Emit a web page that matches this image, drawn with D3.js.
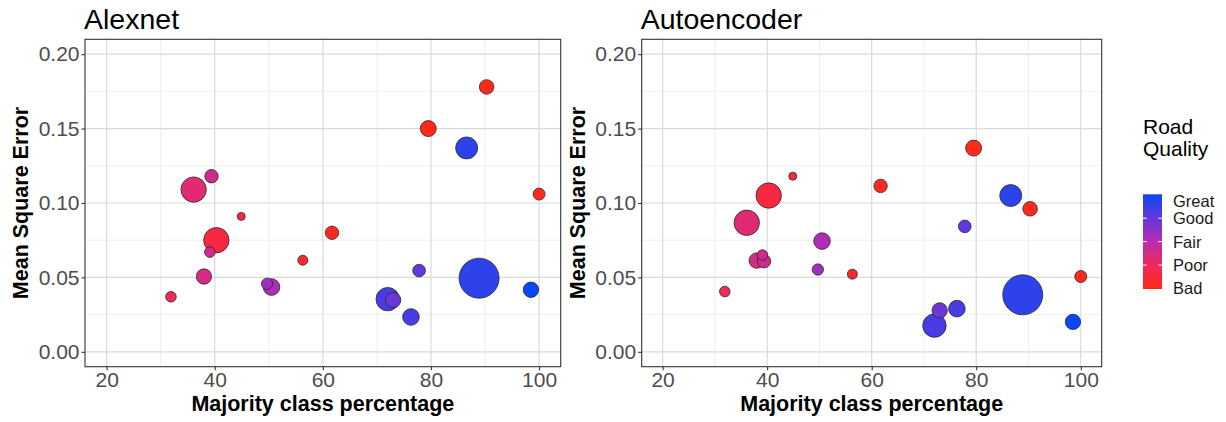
<!DOCTYPE html>
<html>
<head>
<meta charset="utf-8">
<script src="https://cdn.jsdelivr.net/npm/d3@7/dist/d3.min.js"></script>
<style>
  body { margin: 0; background: #fff; }
  svg { display: block; font-family: "Liberation Sans", Arial, sans-serif; }
</style>
</head>
<body>
<svg id="chart" width="1226" height="422"></svg>
<script>
// ---- data ----
const majorityPct = [90.3, 79.5, 86.6, 100, 39.4, 36.1, 44.9, 40.3, 39.1, 61.7, 56.3, 38.0, 31.9, 49.7, 50.5, 77.8, 88.9, 98.5, 72.0, 73.0, 76.3];
const alexnetMSE = [0.178, 0.150, 0.137, 0.106, 0.118, 0.109, 0.091, 0.075, 0.067, 0.080, 0.0615, 0.0506, 0.037, 0.0457, 0.0435, 0.0546, 0.0495, 0.0417, 0.0354, 0.0348, 0.0234];
const autoencoderMSE = [0.0961, 0.1369, 0.105, 0.0506, 0.0609, 0.0867, 0.118, 0.105, 0.065, 0.1115, 0.0522, 0.0613, 0.0405, 0.0553, 0.0744, 0.0843, 0.0383, 0.0201, 0.0176, 0.0278, 0.029];
const roadQuality = [1.0, 1.0, 4.6, 1.0, 2.6, 2.3, 1.7, 1.6, 2.6, 1.1, 1.2, 2.5, 2.0, 3.3, 3.1, 4.0, 4.6, 5.0, 4.3, 3.9, 4.3];
const sampleSize = [53, 64, 121, 36, 45, 161, 16, 161, 28, 45, 25, 59, 28, 32, 69, 40, 400, 59, 137, 59, 69];
const panelTitles = ["Alexnet", "Autoencoder"];
const xTicks = [20, 40, 60, 80, 100];
const xMinor = [30, 50, 70, 90];
const yTicks = [0, 0.05, 0.10, 0.15, 0.20];
const yMinor = [0.025, 0.075, 0.125, 0.175];
const qualityLabels = ["Great", "Good", "Fair", "Poor", "Bad"];
const qualityBreaks = [4.72, 4, 3, 2, 1];
const qualityTicks = [4, 3, 2];

// ---- layout ----
const svg = d3.select("#chart");
const plotTop = 39.3, plotBottom = 366.7;
const panels = [
  { x0: 85, x1: 560.7, title: panelTitles[0], mse: alexnetMSE },
  { x0: 641.7, x1: 1101.7, title: panelTitles[1], mse: autoencoderMSE }
];

const color = d3.scaleLinear()
  .domain([1, 2, 3, 4, 5])
  .range(["#ff2a1a", "#f2285a", "#b82cb0", "#6238dc", "#0a48f5"])
  .interpolate(d3.interpolateRgb);
const rScale = d3.scaleSqrt().domain([0, 400]).range([0, 20]);

panels.forEach(p => {
  const x = d3.scaleLinear().domain([16, 104]).range([p.x0, p.x1]);
  const y = d3.scaleLinear().domain([-0.01, 0.21]).range([plotBottom, plotTop]);
  const g = svg.append("g");

  // minor grid
  g.selectAll(".vmin").data(xMinor).enter().append("line")
    .attr("x1", d => x(d)).attr("x2", d => x(d)).attr("y1", plotTop).attr("y2", plotBottom)
    .attr("stroke", "#ebebeb").attr("stroke-width", 0.8);
  g.selectAll(".hmin").data(yMinor).enter().append("line")
    .attr("y1", d => y(d)).attr("y2", d => y(d)).attr("x1", p.x0).attr("x2", p.x1)
    .attr("stroke", "#ebebeb").attr("stroke-width", 0.8);
  // major grid
  g.selectAll(".vmaj").data(xTicks).enter().append("line")
    .attr("x1", d => x(d)).attr("x2", d => x(d)).attr("y1", plotTop).attr("y2", plotBottom)
    .attr("stroke", "#d9d9d9").attr("stroke-width", 1.2);
  g.selectAll(".hmaj").data(yTicks).enter().append("line")
    .attr("y1", d => y(d)).attr("y2", d => y(d)).attr("x1", p.x0).attr("x2", p.x1)
    .attr("stroke", "#d9d9d9").attr("stroke-width", 1.2);

  // points (large first so small ones sit on top)
  const idx = d3.range(majorityPct.length).sort((a, b) => sampleSize[b] - sampleSize[a]);
  g.selectAll("circle").data(idx).enter().append("circle")
    .attr("cx", i => x(majorityPct[i]))
    .attr("cy", i => y(p.mse[i]))
    .attr("r", i => rScale(sampleSize[i]))
    .attr("fill", i => color(roadQuality[i]))
    .attr("stroke", "#2a2a2a").attr("stroke-width", 0.8);

  // border
  g.append("rect").attr("x", p.x0).attr("y", plotTop)
    .attr("width", p.x1 - p.x0).attr("height", plotBottom - plotTop)
    .attr("fill", "none").attr("stroke", "#333").attr("stroke-width", 1.1);

  // axes
  const xAxis = d3.axisBottom(x).tickValues(xTicks).tickSize(3.5).tickPadding(2).tickFormat(d3.format("d"));
  const xa = g.append("g").attr("transform", `translate(0,${plotBottom})`).call(xAxis);
  const yAxis = d3.axisLeft(y).tickValues(yTicks).tickSize(3.5).tickPadding(2).tickFormat(d3.format(".2f"));
  const ya = g.append("g").attr("transform", `translate(${p.x0},0)`).call(yAxis);
  [xa, ya].forEach(a => {
    a.select(".domain").remove();
    a.selectAll(".tick line").attr("stroke", "#333").attr("stroke-width", 1.1);
    a.selectAll(".tick text").attr("fill", "#4d4d4d").attr("font-size", 21)
      .attr("font-family", "Liberation Sans, Arial, sans-serif");
  });

  // titles
  g.append("text").attr("x", p.x0 - 1).attr("y", 29)
    .attr("font-size", 28.5).attr("fill", "#000").text(p.title);
  g.append("text").attr("x", (p.x0 + p.x1) / 2).attr("y", 411)
    .attr("text-anchor", "middle").attr("font-size", 21.5).attr("font-weight", "bold")
    .attr("fill", "#000").text("Majority class percentage");
  g.append("text")
    .attr("transform", `translate(${p.x0 - 57},${(plotTop + plotBottom) / 2}) rotate(-90)`)
    .attr("text-anchor", "middle").attr("font-size", 21.5).attr("font-weight", "bold")
    .attr("fill", "#000").text("Mean Square Error");
});

// ---- legend ----
const leg = svg.append("g");
leg.append("text").attr("x", 1143).attr("y", 134).attr("font-size", 21).attr("fill", "#000").text("Road");
leg.append("text").attr("x", 1143).attr("y", 155.5).attr("font-size", 21).attr("fill", "#000").text("Quality");

const barTop = 194.3, barBot = 289, barX = 1143, barW = 19;
const ly = d3.scaleLinear().domain([1, 5]).range([barBot - 0.5, barTop + 0.5]);
const defs = svg.append("defs");
const grad = defs.append("linearGradient").attr("id", "qgrad")
  .attr("x1", 0).attr("y1", 1).attr("x2", 0).attr("y2", 0);
d3.range(0, 21).forEach(k => {
  const v = 1 + k * 0.2;
  grad.append("stop").attr("offset", (k / 20 * 100) + "%").attr("stop-color", color(v));
});
leg.append("rect").attr("x", barX).attr("y", barTop).attr("width", barW).attr("height", barBot - barTop)
  .attr("fill", "url(#qgrad)");
leg.selectAll(".tl").data(qualityTicks).enter().append("line")
  .attr("x1", barX).attr("x2", barX + 3.8).attr("y1", d => ly(d)).attr("y2", d => ly(d))
  .attr("stroke", "#fff").attr("stroke-width", 1);
leg.selectAll(".tr").data(qualityTicks).enter().append("line")
  .attr("x1", barX + barW - 3.8).attr("x2", barX + barW).attr("y1", d => ly(d)).attr("y2", d => ly(d))
  .attr("stroke", "#fff").attr("stroke-width", 1);
leg.selectAll(".ql").data(qualityLabels).enter().append("text")
  .attr("x", 1173).attr("y", (d, i) => ly(qualityBreaks[i]))
  .attr("dy", "0.36em").attr("font-size", 16.5).attr("fill", "#1a1a1a").text(d => d);
</script>
</body>
</html>
